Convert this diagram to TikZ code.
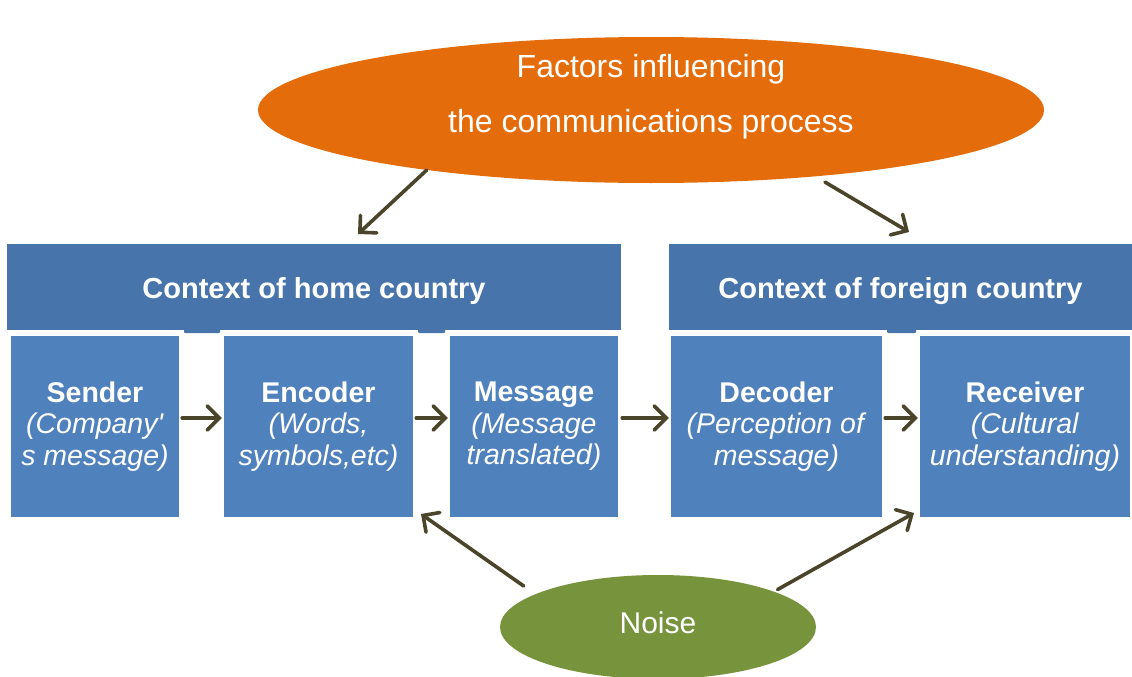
\documentclass[tikz,border=0pt]{standalone}
\usepackage{fontspec}
\setmainfont{Liberation Sans}
\newfontfamily\plainfont{Liberation Sans}
\usetikzlibrary{shapes.geometric,arrows.meta}
\definecolor{barblue}{RGB}{70,116,171}
\definecolor{boxblue}{RGB}{79,129,189}
\definecolor{orangeE}{RGB}{228,108,10}
\definecolor{greenN}{RGB}{119,147,60}
\definecolor{arrowc}{RGB}{74,69,42}
\begin{document}
\begin{tikzpicture}[x=1pt,y=-1pt,
  bar/.style={fill=barblue, draw=none, inner sep=0pt, text=white,
    minimum height=86pt, text height=22pt, text depth=0pt,
    font=\fontsize{29}{34}\selectfont\bfseries},
  stage/.style={fill=boxblue, draw=none, inner sep=0pt, text=white, align=center,
    minimum height=181pt, font=\fontsize{28.5}{31.5}\selectfont},
  conn/.style={draw=arrowc, line width=3.6pt, line cap=round,
    -{Straight Barb[length=12pt,width=24pt,line cap=round]}},
  oval/.style={ellipse, draw=none, inner sep=0pt, text=white},
]
\useasboundingbox (0,0) rectangle (1132,677);

% ellipses
\node[oval, fill=orangeE, minimum width=786pt, minimum height=146pt] (fac) at (651,110) {};
\node[text=white, align=center, font=\fontsize{32}{55}\selectfont, inner sep=0pt] (factxt) at (651,97)
  {Factors influencing\\the communications process};
\node[oval, fill=greenN, minimum width=316pt, minimum height=104pt, text depth=8pt,
  font=\fontsize{30}{34}\selectfont] (noise) at (658,627) {Noise};

% header bars
\node[bar, minimum width=614pt] (home) at (314,287) {Context of home country};
\node[bar, minimum width=463pt] (foreign) at (900.5,287) {Context of foreign country};
\fill[barblue, rounded corners=1pt] (184,328) rectangle (220,333);
\fill[barblue, rounded corners=1pt] (418,328) rectangle (445,333);
\fill[barblue, rounded corners=1pt] (887,328) rectangle (916,333);

% stage boxes
\node[stage, minimum width=168pt] (sender) at (95,426.5)
  {\textbf{Sender}\\\textit{(Company{\plainfont\itshape '}}\\\textit{s message)}};
\node[stage, minimum width=189pt] (enc) at (318.5,426.5)
  {\textbf{Encoder}\\\textit{(Words,}\\\textit{symbols,etc)}};
\node[stage, minimum width=168pt] (msg) at (534,426.5)
  {\textbf{Message}\\\textit{(Message}\\\textit{translated)}};
\node[stage, minimum width=211pt] (dec) at (776.5,426.5)
  {\textbf{Decoder}\\\textit{(Perception of}\\\textit{message)}};
\node[stage, minimum width=210pt] (rec) at (1025,426.5)
  {\textbf{Receiver}\\\textit{(Cultural}\\\textit{understanding)}};

% horizontal connectors
\draw[conn, shorten <=3pt, shorten >=2pt] ([yshift=8.5pt]sender.east) -- ([yshift=8.5pt]enc.west);
\draw[conn, shorten <=3pt, shorten >=2pt] ([yshift=8.5pt]enc.east) -- ([yshift=8.5pt]msg.west);
\draw[conn, shorten <=4pt, shorten >=2pt] ([yshift=8.5pt]msg.east) -- ([yshift=8.5pt]dec.west);
\draw[conn, shorten <=3pt, shorten >=2pt] ([yshift=8.5pt]dec.east) -- ([yshift=8.5pt]rec.west);

% diagonal connectors
\coordinate (homeTip) at (358,234);
\coordinate (forTip) at (909,232);
\coordinate (encTip) at (421,514);
\coordinate (recTip) at (914,513);
\draw[conn] (fac.195) -- (homeTip);
\draw[conn, shorten <=11pt] (fac.338) -- (forTip);
\draw[conn, shorten <=14pt] (noise.165) -- (encTip);
\draw[conn, shorten <=4pt] (noise.17.7) -- (recTip);
\end{tikzpicture}
\end{document}
